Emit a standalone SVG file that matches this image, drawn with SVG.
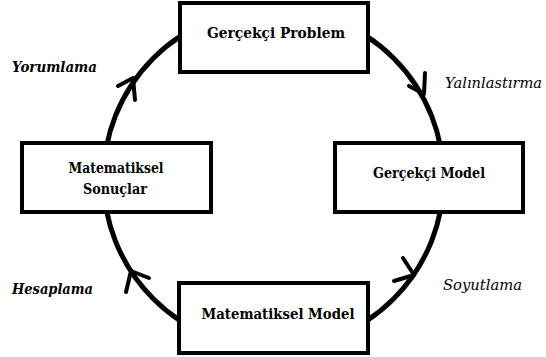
<svg xmlns="http://www.w3.org/2000/svg" width="546" height="357" viewBox="0 0 546 357">
<style>
.box{fill:#fff;stroke:#000;stroke-width:4}
.arc{fill:none;stroke:#000;stroke-width:5}
.head{fill:none;stroke:#000;stroke-width:4;stroke-linecap:round;stroke-linejoin:round}
text{font-family:"DejaVu Serif",serif;fill:#000}
.t{font-weight:bold;font-size:14px;text-anchor:middle}
.l{font-style:italic;font-size:15px}
.lb{font-weight:bold}
</style>
<rect width="546" height="357" fill="#fff"/>
<g id="connectors">
<circle class="arc" cx="273.5" cy="178.5" r="170"/>
<path class="head" d="M118,86 L133,78 L135,100"/>
<path class="head" d="M409,86 L424,94 L425,73"/>
<path class="head" d="M403,258 L414,275 L394,281"/>
<path class="head" d="M126,292 L131,271 L149,278"/>
</g>
<g id="gercekci-problem">
<rect class="box" x="180" y="3" width="188" height="69"/>
<text class="t" x="276" y="38" textLength="138" lengthAdjust="spacingAndGlyphs">Gerçekçi  Problem</text>
</g>
<g id="gercekci-model">
<rect class="box" x="335" y="143" width="188" height="69"/>
<text class="t" x="429" y="178" textLength="112" lengthAdjust="spacingAndGlyphs">Gerçekçi  Model</text>
</g>
<g id="matematiksel-model">
<rect class="box" x="179" y="283" width="189" height="70"/>
<text class="t" x="278" y="319" textLength="153" lengthAdjust="spacingAndGlyphs">Matematiksel Model</text>
</g>
<g id="matematiksel-sonuclar">
<rect class="box" x="22" y="143" width="189" height="69"/>
<text class="t" x="116" y="173" textLength="95" lengthAdjust="spacingAndGlyphs">Matematiksel</text>
<text class="t" x="115" y="194" textLength="64" lengthAdjust="spacingAndGlyphs">Sonuçlar</text>
</g>
<g id="labels">
<text class="l lb" x="12" y="72" textLength="85" lengthAdjust="spacingAndGlyphs">Yorumlama</text>
<text class="l" x="445" y="88" textLength="97" lengthAdjust="spacingAndGlyphs">Yalınlastırma</text>
<text class="l" x="443" y="290" textLength="79" lengthAdjust="spacingAndGlyphs">Soyutlama</text>
<text class="l lb" x="12" y="294" textLength="81" lengthAdjust="spacingAndGlyphs">Hesaplama</text>
</g>
</svg>
